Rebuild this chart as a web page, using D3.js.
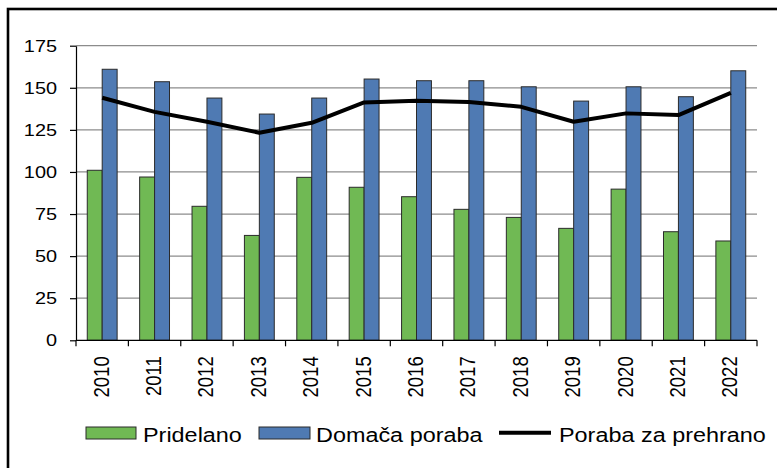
<!DOCTYPE html>
<html>
<head>
<meta charset="utf-8">
<script src="https://cdn.jsdelivr.net/npm/d3@7"></script>
<style>
  body { margin: 0; background: #fff; }
  svg { display: block; font-family: "Liberation Sans", Arial, sans-serif; }
</style>
</head>
<body>
<svg id="chart" width="777" height="468"></svg>
<script>
// --- Data ---
const years = ["2010", "2011", "2012", "2013", "2014", "2015", "2016", "2017", "2018", "2019", "2020", "2021", "2022"];
const pridelano = [101, 97, 79.6, 62.3, 96.8, 90.9, 85.3, 77.8, 73, 66.5, 89.8, 64.5, 59];
const domaca = [161, 153.6, 143.9, 134.4, 143.9, 155.2, 154.2, 154.2, 150.6, 142.1, 150.6, 144.7, 160.1];
const prehrana = [144.1, 135.7, 129.8, 123.3, 129.2, 141.3, 142.3, 141.5, 138.7, 129.8, 134.8, 133.8, 147];
const yTicks = [0, 25, 50, 75, 100, 125, 150, 175];
const seriesNames = ["Pridelano", "Domača poraba", "Poraba za prehrano"];

const green = "#70b954", blue = "#4f7ab3";
const stretch = 1.17; // the source picture is a bit wider than tall

const svg = d3.select("#chart");

// outer frame (right and bottom edges fall outside the picture)
svg.append("rect")
  .attr("x", 8).attr("y", 9)
  .attr("width", 820).attr("height", 520)
  .attr("fill", "none")
  .attr("stroke", "#000")
  .attr("stroke-width", 2.6);

const x = d3.scaleBand().domain(years).range([76, 757]);
const y = d3.scaleLinear().domain([0, 175]).range([340.3, 45.7]);
const bw = x.bandwidth();
const x1 = d3.scaleBand().domain(["p", "d"]).range([bw * 0.215, bw * 0.785]);

// gridlines
svg.append("g")
  .selectAll("line")
  .data(yTicks.filter(d => d > 0))
  .join("line")
  .attr("x1", 76).attr("x2", 757)
  .attr("y1", d => y(d)).attr("y2", d => y(d))
  .attr("stroke", "#8c8c8c")
  .attr("stroke-width", 1.2);

// bars
const rows = years.map((yr, i) => ({ yr, p: pridelano[i], d: domaca[i], f: prehrana[i] }));

svg.append("g")
  .selectAll("rect.p")
  .data(rows)
  .join("rect")
  .attr("x", d => x(d.yr) + x1("p"))
  .attr("y", d => y(d.p))
  .attr("width", x1.bandwidth())
  .attr("height", d => y(0) - y(d.p))
  .attr("fill", green)
  .attr("stroke", "#2b2b2b")
  .attr("stroke-width", 1);

svg.append("g")
  .selectAll("rect.d")
  .data(rows)
  .join("rect")
  .attr("x", d => x(d.yr) + x1("d"))
  .attr("y", d => y(d.d))
  .attr("width", x1.bandwidth())
  .attr("height", d => y(0) - y(d.d))
  .attr("fill", blue)
  .attr("stroke", "#2b2b2b")
  .attr("stroke-width", 1);

// line
const line = d3.line()
  .x(d => x(d.yr) + bw / 2)
  .y(d => y(d.f));

svg.append("path")
  .datum(rows)
  .attr("d", line)
  .attr("fill", "none")
  .attr("stroke", "#000")
  .attr("stroke-width", 4)
  .attr("stroke-linejoin", "round");

// y axis
const yAxis = svg.append("g")
  .attr("transform", "translate(76,0)")
  .call(d3.axisLeft(y).tickValues(yTicks).tickSize(6).tickPadding(0).tickSizeOuter(0));
yAxis.select(".domain").attr("stroke", "#000").attr("stroke-width", 1.2);
yAxis.selectAll(".tick line").attr("stroke", "#000").attr("stroke-width", 1.2);
yAxis.selectAll(".tick text")
  .attr("x", -19)
  .attr("fill", "#000")
  .style("font-size", "17px")
  .style("font-family", "'Liberation Sans', Arial, sans-serif")
  .each(function () {
    const len = this.getComputedTextLength();
    d3.select(this).attr("textLength", len * stretch).attr("lengthAdjust", "spacingAndGlyphs");
  });

// x axis: ticks at the category boundaries
const xBounds = years.map(d => x(d)).concat([x.range()[1]]);
svg.append("line")
  .attr("x1", 76).attr("x2", 757)
  .attr("y1", y(0)).attr("y2", y(0))
  .attr("stroke", "#000").attr("stroke-width", 1.2);
svg.append("g")
  .selectAll("line")
  .data(xBounds)
  .join("line")
  .attr("x1", d => d).attr("x2", d => d)
  .attr("y1", y(0)).attr("y2", y(0) + 6)
  .attr("stroke", "#000").attr("stroke-width", 1.2);

// year labels, rotated
svg.append("g")
  .selectAll("text")
  .data(years)
  .join("text")
  .attr("transform", d => `translate(${x(d) + bw / 2 + 6.5},${y(0) + 16}) scale(${stretch},1) rotate(-90)`)
  .attr("text-anchor", "end")
  .style("font-size", "18.5px")
  .text(d => d);

// legend
const leg = svg.append("g");
const legText = (tx, label) => leg.append("text")
  .attr("x", tx).attr("y", 441.5)
  .style("font-size", "20px")
  .text(label)
  .each(function () {
    const len = this.getComputedTextLength();
    d3.select(this).attr("textLength", len * stretch).attr("lengthAdjust", "spacingAndGlyphs");
  });

leg.append("rect")
  .attr("x", 86).attr("y", 427).attr("width", 50).attr("height", 12)
  .attr("fill", green).attr("stroke", "#2b2b2b").attr("stroke-width", 1);
legText(143, seriesNames[0]);

leg.append("rect")
  .attr("x", 259).attr("y", 427).attr("width", 51).attr("height", 12)
  .attr("fill", blue).attr("stroke", "#2b2b2b").attr("stroke-width", 1);
legText(316, seriesNames[1]);

leg.append("line")
  .attr("x1", 499).attr("x2", 551)
  .attr("y1", 432.7).attr("y2", 432.7)
  .attr("stroke", "#000").attr("stroke-width", 4);
legText(559, seriesNames[2]);
</script>
</body>
</html>
